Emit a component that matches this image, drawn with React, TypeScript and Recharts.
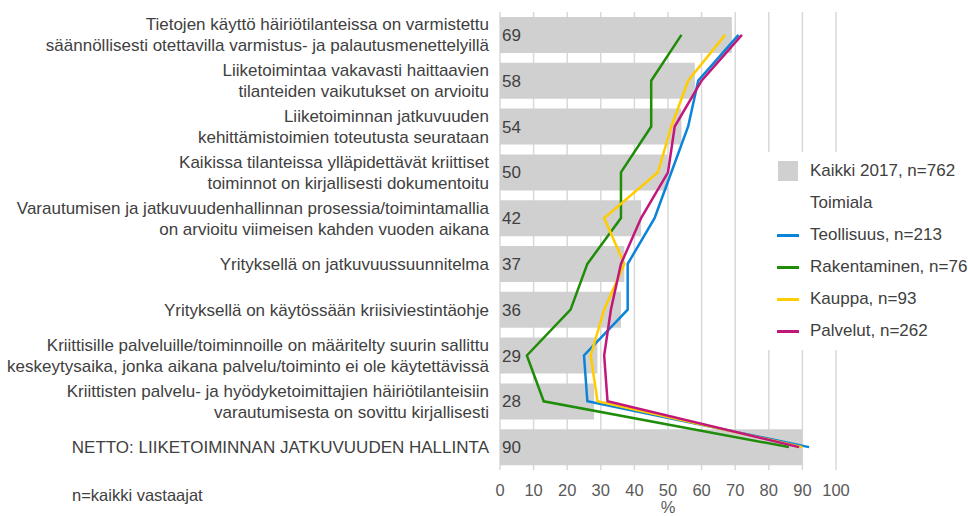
import React from "react";
import {
  ComposedChart, Bar, Line, XAxis, YAxis, CartesianGrid, Legend, LabelList,
} from "recharts";

const categories = [
  "Tietojen käyttö häiriötilanteissa on varmistettu\nsäännöllisesti otettavilla varmistus- ja palautusmenettelyillä",
  "Liiketoimintaa vakavasti haittaavien\ntilanteiden vaikutukset on arvioitu",
  "Liiketoiminnan jatkuvuuden\nkehittämistoimien toteutusta seurataan",
  "Kaikissa tilanteissa ylläpidettävät kriittiset\ntoiminnot on kirjallisesti dokumentoitu",
  "Varautumisen ja jatkuvuudenhallinnan prosessia/toimintamallia\non arvioitu viimeisen kahden vuoden aikana",
  "Yrityksellä on jatkuvuussuunnitelma",
  "Yrityksellä on käytössään kriisiviestintäohje",
  "Kriittisille palveluille/toiminnoille on määritelty suurin sallittu\nkeskeytysaika, jonka aikana palvelu/toiminto ei ole käytettävissä",
  "Kriittisten palvelu- ja hyödyketoimittajien häiriötilanteisiin\nvarautumisesta on sovittu kirjallisesti",
  "NETTO: LIIKETOIMINNAN JATKUVUUDEN HALLINTA",
];
const kaikki = [69, 58, 54, 50, 42, 37, 36, 29, 28, 90];
const teollisuus = [71, 59, 56, 51, 46, 38, 38, 25, 26, 92];
const rakentaminen = [54, 45, 45, 36, 36, 26, 21, 8, 13, 86];
const kauppa = [67, 56, 51, 47, 31, 37, 31, 27, 29, 90];
const palvelut = [72, 60, 52, 50, 42, 36, 33, 31, 32, 89];
const xTicks = [0, 10, 20, 30, 40, 50, 60, 70, 80, 90, 100];
const legendOrder = ["kaikki", "teollisuus", "rakentaminen", "kauppa", "palvelut"];

const data = categories.map((name, i) => ({
  name,
  kaikki: kaikki[i],
  teollisuus: teollisuus[i],
  rakentaminen: rakentaminen[i],
  kauppa: kauppa[i],
  palvelut: palvelut[i],
}));

const font = "'Liberation Sans', Arial, sans-serif";
const ink = "#404040";
const fs = 17;

function CategoryTick({ y, payload }: any) {
  const lines = String(payload.value).split("\n");
  const step = 21;
  const start = y - ((lines.length - 1) * step) / 2;
  return (
    <text x={489} y={start} textAnchor="end" fill={ink} fontSize={fs} fontFamily={font} dominantBaseline="central">
      {lines.map((l, i) => (
        <tspan key={i} x={489} y={start + i * step}>{l}</tspan>
      ))}
    </text>
  );
}

function LegendBox({ payload }: any) {
  const items = [...(payload || [])].sort(
    (a: any, b: any) => legendOrder.indexOf(a.dataKey) - legendOrder.indexOf(b.dataKey)
  );
  const row = (key: string, icon: React.ReactNode, label: string) => (
    <div key={key} style={{ height: 32, display: "flex", alignItems: "center" }}>
      <div style={{ width: 60, display: "flex", alignItems: "center" }}>{icon}</div>
      <span style={{ color: ink, fontSize: fs, fontFamily: font, whiteSpace: "nowrap" }}>{label}</span>
    </div>
  );
  return (
    <div style={{ background: "#fff", width: 218, height: 198, paddingTop: 3, boxSizing: "border-box" }}>
      {items.map((it: any, i: number) => {
        const icon = it.type === "rect"
          ? <div style={{ marginLeft: 28, width: 20, height: 20, background: it.color }} />
          : <div style={{ marginLeft: 27, width: 22, height: 3, background: it.color }} />;
        const out = [row(String(i), icon, it.value)];
        if (i === 0) out.push(row("hdr", null, "Toimiala"));
        return out;
      })}
    </div>
  );
}

export default function App() {
  return (
    <div style={{ position: "absolute", left: 0, top: 0, width: 968, height: 516, background: "#fff" }}>
      <ComposedChart
        width={968}
        height={516}
        data={data}
        layout="vertical"
        margin={{ top: 12, right: 132, bottom: 0, left: 0 }}
      >
        <CartesianGrid horizontal={false} stroke="#d9d9d9" strokeWidth={1.5} />
        <XAxis
          type="number"
          domain={[0, 100]}
          ticks={xTicks}
          axisLine={false}
          tickLine={false}
          height={46}
          tickMargin={8}
          tick={{ fill: "#595959", fontSize: 16.5, fontFamily: font }}
          label={{ value: "%", position: "insideBottom", offset: 3, fill: "#595959", fontSize: 16.5, fontFamily: font }}
        />
        <YAxis
          type="category"
          dataKey="name"
          width={500}
          axisLine={false}
          tickLine={false}
          interval={0}
          tick={<CategoryTick />}
        />
        <Legend
          layout="vertical"
          align="center"
          verticalAlign="middle"
          wrapperStyle={{ left: 750, top: 152, width: 218, height: 198 }}
          content={<LegendBox />}
        />
        <Bar dataKey="kaikki" name="Kaikki 2017, n=762" fill="#d0d0d0" barSize={36} legendType="rect" isAnimationActive={false}>
          <LabelList dataKey="kaikki" position="insideLeft" offset={2} fill={ink} fontSize={fs} fontFamily={font} />
        </Bar>
        <Line dataKey="teollisuus" name="Teollisuus, n=213" stroke="#0a84d8" strokeWidth={2.5} dot={false} legendType="line" isAnimationActive={false} />
        <Line dataKey="rakentaminen" name="Rakentaminen, n=76" stroke="#1f8c0a" strokeWidth={2.5} dot={false} legendType="line" isAnimationActive={false} />
        <Line dataKey="kauppa" name="Kauppa, n=93" stroke="#ffcc00" strokeWidth={2.5} dot={false} legendType="line" isAnimationActive={false} />
        <Line dataKey="palvelut" name="Palvelut, n=262" stroke="#c2177a" strokeWidth={2.5} dot={false} legendType="line" isAnimationActive={false} />
      </ComposedChart>
      <div style={{ position: "absolute", left: 72, top: 486, color: ink, fontSize: 16.5, fontFamily: font, whiteSpace: "nowrap" }}>
        n=kaikki vastaajat
      </div>
    </div>
  );
}
